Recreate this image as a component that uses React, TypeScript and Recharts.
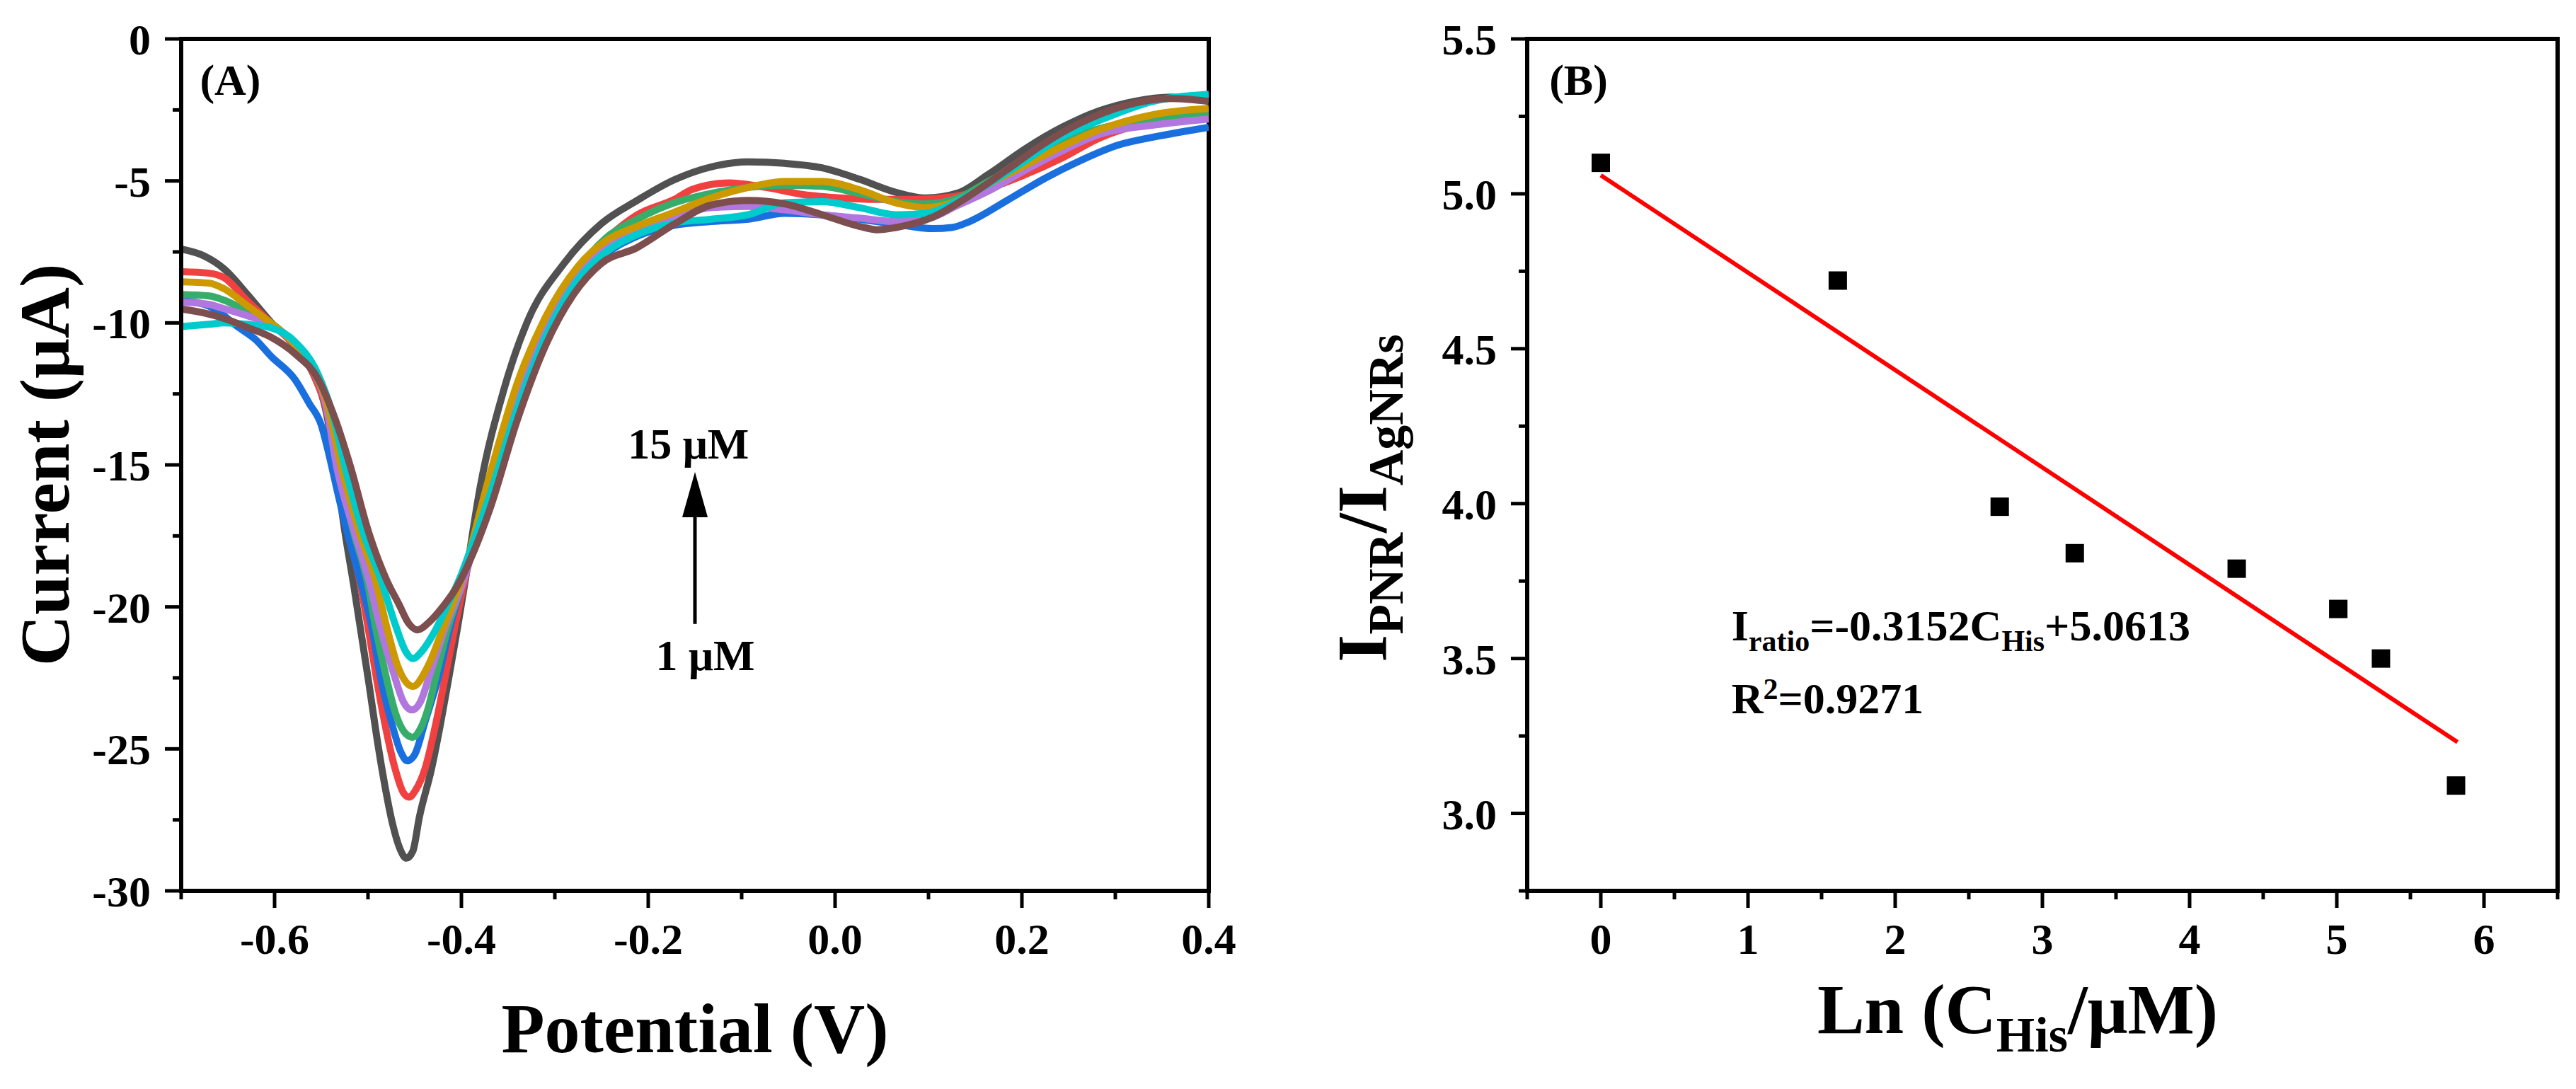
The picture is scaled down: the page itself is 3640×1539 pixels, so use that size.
import React from 'react';
import {
  LineChart,
  ComposedChart,
  Line,
  Scatter,
  XAxis,
  YAxis,
  ReferenceArea,
  ReferenceDot,
  ReferenceLine,
} from 'recharts';

const FONT = '"Liberation Serif", "Times New Roman", serif';

// ---- panel A: DPV curves, [potential V, current uA] ----
const curve1 = [
  [-0.7, -7.4], [-0.675, -7.65], [-0.654, -8.1], [-0.629, -9.0], [-0.604, -9.97], [-0.58, -10.75],
  [-0.56, -11.7], [-0.545, -13.1], [-0.535, -15.0], [-0.525, -17.3], [-0.515, -19.3], [-0.507, -21.0],
  [-0.499, -22.7], [-0.491, -24.5], [-0.483, -26.1], [-0.474, -27.6], [-0.466, -28.5], [-0.459, -28.85],
  [-0.452, -28.6], [-0.445, -27.4], [-0.432, -25.7], [-0.422, -24.05], [-0.413, -22.4], [-0.404, -20.7],
  [-0.397, -19.3], [-0.38, -15.8], [-0.355, -12.4], [-0.33, -10.0], [-0.29, -7.9], [-0.25, -6.5],
  [-0.212, -5.69], [-0.172, -4.96], [-0.133, -4.51], [-0.093, -4.33], [-0.054, -4.38], [-0.014, -4.54],
  [0.026, -4.94], [0.065, -5.4], [0.097, -5.6], [0.132, -5.42], [0.164, -4.77], [0.204, -3.86],
  [0.243, -3.11], [0.283, -2.53], [0.32, -2.2], [0.36, -2.05], [0.4, -2.1],
];
const curve2 = [
  [-0.7, -8.2], [-0.67, -8.25], [-0.654, -8.41], [-0.629, -9.23], [-0.604, -10.0], [-0.58, -10.75],
  [-0.56, -11.7], [-0.545, -13.0], [-0.532, -15.2], [-0.52, -17.4], [-0.507, -19.4], [-0.499, -20.9],
  [-0.491, -22.5], [-0.482, -24.1], [-0.471, -25.7], [-0.462, -26.55], [-0.456, -26.7], [-0.449, -26.45],
  [-0.439, -25.7], [-0.427, -24.05], [-0.417, -22.4], [-0.407, -20.7], [-0.398, -19.3], [-0.37, -15.6],
  [-0.34, -12.3], [-0.31, -9.9], [-0.27, -7.9], [-0.24, -6.9], [-0.212, -6.2], [-0.172, -5.65],
  [-0.153, -5.3], [-0.113, -5.07], [-0.074, -5.23], [-0.034, -5.48], [0.006, -5.6], [0.045, -5.65],
  [0.085, -5.65], [0.125, -5.56], [0.164, -5.27], [0.204, -4.77], [0.243, -4.19], [0.283, -3.49],
  [0.33, -3.0], [0.4, -2.75],
];
const curve3 = [
  [-0.7, -9.22], [-0.675, -9.35], [-0.66, -9.6], [-0.641, -10.1], [-0.62, -10.6], [-0.604, -11.17],
  [-0.578, -12.0], [-0.563, -12.83], [-0.55, -13.6], [-0.542, -14.6], [-0.533, -15.9], [-0.522, -17.4],
  [-0.508, -19.1], [-0.496, -20.7], [-0.487, -22.4], [-0.475, -24.05], [-0.465, -25.1], [-0.458, -25.42],
  [-0.45, -25.2], [-0.439, -24.05], [-0.424, -22.4], [-0.412, -20.7], [-0.4, -19.3], [-0.37, -16.2],
  [-0.34, -13.2], [-0.31, -10.6], [-0.28, -8.8], [-0.25, -7.7], [-0.212, -6.95], [-0.172, -6.56],
  [-0.133, -6.43], [-0.093, -6.35], [-0.054, -6.14], [-0.014, -6.2], [0.026, -6.35], [0.065, -6.52],
  [0.105, -6.68], [0.125, -6.64], [0.144, -6.43], [0.184, -5.69], [0.223, -4.94], [0.263, -4.28],
  [0.303, -3.74], [0.342, -3.45], [0.4, -3.11],
];
const curve4 = [
  [-0.7, -9.0], [-0.67, -9.05], [-0.654, -9.2], [-0.629, -9.6], [-0.604, -10.0], [-0.58, -10.7],
  [-0.56, -11.6], [-0.545, -12.8], [-0.532, -15.0], [-0.516, -17.3], [-0.501, -19.06], [-0.492, -20.7],
  [-0.481, -22.4], [-0.47, -23.8], [-0.46, -24.45], [-0.452, -24.59], [-0.444, -24.3], [-0.435, -23.5],
  [-0.427, -22.4], [-0.414, -20.7], [-0.4, -19.3], [-0.37, -15.7], [-0.34, -12.4], [-0.31, -10.0],
  [-0.275, -8.1], [-0.245, -7.0], [-0.212, -6.35], [-0.172, -5.77], [-0.133, -5.44], [-0.093, -5.23],
  [-0.054, -5.15], [-0.014, -5.19], [0.026, -5.44], [0.065, -5.73], [0.097, -5.81], [0.132, -5.6],
  [0.164, -5.02], [0.204, -4.36], [0.243, -3.61], [0.283, -3.16], [0.342, -2.82], [0.4, -2.62],
];
const curve5 = [
  [-0.7, -9.27], [-0.67, -9.35], [-0.654, -9.5], [-0.629, -9.75], [-0.604, -10.05], [-0.58, -10.7],
  [-0.56, -11.6], [-0.545, -12.9], [-0.533, -15.15], [-0.515, -17.3], [-0.499, -19.06], [-0.487, -20.7],
  [-0.472, -22.4], [-0.462, -23.35], [-0.453, -23.63], [-0.444, -23.35], [-0.434, -22.4], [-0.417, -20.7],
  [-0.4, -19.3], [-0.37, -15.9], [-0.34, -12.8], [-0.31, -10.3], [-0.275, -8.4], [-0.245, -7.3],
  [-0.212, -6.68], [-0.172, -6.27], [-0.133, -5.94], [-0.093, -5.9], [-0.054, -6.02], [-0.014, -6.19],
  [0.026, -6.31], [0.065, -6.43], [0.097, -6.35], [0.132, -5.85], [0.164, -5.36], [0.204, -4.61],
  [0.243, -3.94], [0.283, -3.36], [0.342, -3.03], [0.4, -2.82],
];
const curve6 = [
  [-0.7, -8.55], [-0.67, -8.6], [-0.654, -8.8], [-0.629, -9.4], [-0.604, -10.0], [-0.58, -10.7],
  [-0.56, -11.6], [-0.545, -12.7], [-0.528, -15.15], [-0.51, -17.3], [-0.492, -19.06], [-0.48, -20.7],
  [-0.468, -22.1], [-0.452, -22.8], [-0.436, -22.1], [-0.419, -20.7], [-0.4, -19.06], [-0.37, -15.4],
  [-0.34, -12.1], [-0.31, -9.8], [-0.275, -8.0], [-0.245, -7.1], [-0.212, -6.6], [-0.172, -6.1],
  [-0.133, -5.6], [-0.093, -5.23], [-0.054, -5.02], [-0.014, -5.02], [0.026, -5.31], [0.065, -5.77],
  [0.097, -5.94], [0.132, -5.69], [0.164, -5.11], [0.204, -4.44], [0.243, -3.78], [0.283, -3.2],
  [0.342, -2.66], [0.4, -2.45],
];
const curve7 = [
  [-0.7, -10.13], [-0.67, -10.05], [-0.654, -10.0], [-0.63, -10.05], [-0.604, -10.17], [-0.578, -10.67],
  [-0.553, -11.84], [-0.538, -13.2], [-0.524, -15.15], [-0.506, -17.3], [-0.486, -19.06], [-0.47, -20.7],
  [-0.46, -21.55], [-0.452, -21.82], [-0.442, -21.55], [-0.43, -20.95], [-0.415, -19.95], [-0.4, -18.85],
  [-0.385, -17.5], [-0.37, -16.1], [-0.34, -13.0], [-0.31, -10.5], [-0.28, -8.7], [-0.245, -7.5],
  [-0.212, -6.89], [-0.172, -6.48], [-0.133, -6.35], [-0.093, -6.19], [-0.054, -5.77], [-0.014, -5.73],
  [0.026, -5.94], [0.065, -6.19], [0.097, -6.14], [0.132, -5.69], [0.164, -5.11], [0.204, -4.28],
  [0.243, -3.45], [0.283, -2.87], [0.34, -2.2], [0.4, -1.95],
];
const curve8 = [
  [-0.7, -9.51], [-0.675, -9.65], [-0.654, -9.84], [-0.63, -10.15], [-0.604, -10.5], [-0.578, -11.09],
  [-0.553, -12.0], [-0.535, -13.4], [-0.518, -15.15], [-0.5, -17.3], [-0.48, -19.06], [-0.467, -19.9],
  [-0.456, -20.6], [-0.447, -20.81], [-0.435, -20.55], [-0.42, -20.0], [-0.405, -19.3], [-0.39, -18.3],
  [-0.37, -16.6], [-0.34, -13.4], [-0.31, -10.8], [-0.28, -9.0], [-0.25, -7.9], [-0.212, -7.35],
  [-0.172, -6.52], [-0.133, -5.85], [-0.093, -5.69], [-0.054, -5.81], [-0.014, -6.19], [0.026, -6.6],
  [0.045, -6.72], [0.065, -6.64], [0.105, -6.27], [0.144, -5.52], [0.184, -4.61], [0.223, -3.7],
  [0.263, -2.95], [0.31, -2.35], [0.36, -2.1], [0.4, -2.2],
];
const curvesA = [curve1, curve2, curve3, curve4, curve5, curve6, curve7, curve8];
const curveColors = ['#515151', '#F14040', '#1A6FDF', '#37AD6B', '#B177DE', '#CC9900', '#00CBCC', '#7D4E4E'];

const aXMajor = [-0.6, -0.4, -0.2, 0, 0.2, 0.4];
const aXLabels = ['-0.6', '-0.4', '-0.2', '0.0', '0.2', '0.4'];
const aXMinor = [-0.7, -0.5, -0.3, -0.1, 0.1, 0.3];
const aYMajor = [-30, -25, -20, -15, -10, -5, 0];
const aYLabels = ['-30', '-25', '-20', '-15', '-10', '-5', '0'];
const aYMinor = [-27.5, -22.5, -17.5, -12.5, -7.5, -2.5];

// ---- panel B: ratio vs ln(C) ----
const lnConc = [0, 1.61, 2.71, 3.22, 4.32, 5.01, 5.3, 5.81];
const ratio = [5.1, 4.72, 3.99, 3.84, 3.79, 3.66, 3.5, 3.09];
const fitX = [0, 5.82];
const fitY = [5.06, 3.23];

const bXMajor = [0, 1, 2, 3, 4, 5, 6];
const bXLabels = ['0', '1', '2', '3', '4', '5', '6'];
const bXMinor = [-0.5, 0.5, 1.5, 2.5, 3.5, 4.5, 5.5, 6.5];
const bYMajor = [3, 3.5, 4, 4.5, 5, 5.5];
const bYLabels = ['3.0', '3.5', '4.0', '4.5', '5.0', '5.5'];
const bYMinor = [2.75, 3.25, 3.75, 4.25, 4.75, 5.25];

const toXY = (pairs: number[][]) => pairs.map(([x, y]) => ({ x, y }));
const sorted = (a: number[], b: number[]) => [...a, ...b].sort((p, q) => p - q);
const findMajor = (list: number[], v: number) => list.findIndex(m => Math.abs(m - v) < 1e-6);

const textStyle = { fontFamily: FONT, fontWeight: 'bold' as const, fill: '#000' };

const makeXTick = (major: number[], labels: string[]) => (props: any) => {
  const { x, y, payload } = props;
  const i = findMajor(major, payload.value);
  return (
    <g>
      <line x1={x} x2={x} y1={y} y2={y + (i >= 0 ? 24 : 12)} stroke="#000" strokeWidth={5} />
      {i >= 0 && (
        <text x={x} y={y + 45} dy="0.71em" textAnchor="middle" fontSize={62} {...textStyle}>
          {labels[i]}
        </text>
      )}
    </g>
  );
};

const makeYTick = (major: number[], labels: string[]) => (props: any) => {
  const { x, y, payload } = props;
  const i = findMajor(major, payload.value);
  return (
    <g>
      <line x1={x - (i >= 0 ? 23 : 12)} x2={x} y1={y} y2={y} stroke="#000" strokeWidth={5} />
      {i >= 0 && (
        <text x={x - 43} y={y} dy="0.355em" textAnchor="end" fontSize={62} {...textStyle}>
          {labels[i]}
        </text>
      )}
    </g>
  );
};

const axisLine = { stroke: '#000', strokeWidth: 6 };

const label = (text: string) => (p: any) => (
  <text x={p.cx} y={p.cy} fontSize={62} {...textStyle}>
    {text}
  </text>
);

const PanelA = () => (
  <LineChart width={1800} height={1539} margin={{ top: 55, right: 92, bottom: 0, left: 0 }}>
    <XAxis
      dataKey="x"
      type="number"
      domain={[-0.7, 0.4]}
      allowDataOverflow
      ticks={sorted(aXMajor, aXMinor)}
      interval={0}
      height={280}
      tickSize={0}
      tickMargin={0}
      tickLine={false}
      axisLine={axisLine}
      tick={makeXTick(aXMajor, aXLabels)}
      label={() => (
        <text x={982} y={1487} textAnchor="middle" fontSize={100} {...textStyle}>
          Potential (V)
        </text>
      )}
    />
    <YAxis
      dataKey="y"
      type="number"
      domain={[-30, 0]}
      allowDataOverflow
      ticks={sorted(aYMajor, aYMinor)}
      interval={0}
      width={256}
      tickSize={0}
      tickMargin={0}
      tickLine={false}
      axisLine={axisLine}
      tick={makeYTick(aYMajor, aYLabels)}
      label={() => (
        <text
          x={97}
          y={657}
          transform="rotate(-90 97 657)"
          textAnchor="middle"
          fontSize={100}
          {...textStyle}
        >
          Current (μA)
        </text>
      )}
    />
    <ReferenceArea x1={-0.7} x2={0.4} y1={-30} y2={0} fill="none" stroke="#000" strokeWidth={6} />
    {curvesA.map((c, i) => (
      <Line
        key={i}
        data={toXY(c)}
        dataKey="y"
        type="monotone"
        stroke={curveColors[i]}
        strokeWidth={10}
        dot={false}
        isAnimationActive={false}
      />
    ))}
    <ReferenceDot x={-0.68} y={-1.97} r={0} shape={label('(A)')} />
    <ReferenceLine
      segment={[{ x: -0.15, y: -20.6 }, { x: -0.15, y: -15.25 }]}
      shape={(p: any) => (
        <g>
          <line x1={p.x1} y1={p.y1} x2={p.x2} y2={p.y2 + 60} stroke="#000" strokeWidth={5} />
          <polygon points={`${p.x2},${p.y2} ${p.x2 - 18},${p.y2 + 64} ${p.x2 + 18},${p.y2 + 64}`} fill="#000" />
        </g>
      )}
    />
    <ReferenceDot
      x={-0.157}
      y={-14.78}
      r={0}
      shape={(p: any) => (
        <text x={p.cx} y={p.cy} textAnchor="middle" fontSize={62} {...textStyle}>
          15 μM
        </text>
      )}
    />
    <ReferenceDot
      x={-0.139}
      y={-22.23}
      r={0}
      shape={(p: any) => (
        <text x={p.cx} y={p.cy} textAnchor="middle" fontSize={62} {...textStyle}>
          1 μM
        </text>
      )}
    />
  </LineChart>
);

const squareShape = (p: any) => <rect x={p.cx - 13} y={p.cy - 13} width={26} height={26} fill="#000" />;

const PanelB = () => (
  <ComposedChart width={1790} height={1539} margin={{ top: 55, right: 26, bottom: 0, left: 0 }}>
    <XAxis
      dataKey="x"
      type="number"
      domain={[-0.5, 6.5]}
      allowDataOverflow
      ticks={sorted(bXMajor, bXMinor)}
      interval={0}
      height={280}
      tickSize={0}
      tickMargin={0}
      tickLine={false}
      axisLine={axisLine}
      tick={makeXTick(bXMajor, bXLabels)}
      label={() => (
        <text x={1001} y={1460} textAnchor="middle" fontSize={100} {...textStyle}>
          <tspan>Ln (C</tspan>
          <tspan fontSize={70} dy={26}>His</tspan>
          <tspan dy={-26}>/μM)</tspan>
        </text>
      )}
    />
    <YAxis
      dataKey="y"
      type="number"
      domain={[2.75, 5.5]}
      allowDataOverflow
      ticks={sorted(bYMajor, bYMinor)}
      interval={0}
      width={308}
      tickSize={0}
      tickMargin={0}
      tickLine={false}
      axisLine={axisLine}
      tick={makeYTick(bYMajor, bYLabels)}
      label={() => (
        <text
          x={108}
          y={704}
          transform="rotate(-90 108 704)"
          textAnchor="middle"
          fontSize={100}
          {...textStyle}
        >
          <tspan>I</tspan>
          <tspan fontSize={70} dy={24}>PNR</tspan>
          <tspan dy={-24}>/I</tspan>
          <tspan fontSize={70} dy={24}>AgNRs</tspan>
        </text>
      )}
    />
    <ReferenceArea x1={-0.5} x2={6.5} y1={2.75} y2={5.5} fill="none" stroke="#000" strokeWidth={6} />
    <Line
      data={toXY(fitX.map((x, i) => [x, fitY[i]]))}
      dataKey="y"
      type="linear"
      stroke="#FF0000"
      strokeWidth={6}
      dot={false}
      isAnimationActive={false}
    />
    <Scatter
      data={toXY(lnConc.map((x, i) => [x, ratio[i]]))}
      dataKey="y"
      shape={squareShape}
      isAnimationActive={false}
    />
    <ReferenceDot x={-0.35} y={5.32} r={0} shape={label('(B)')} />
    <ReferenceDot
      x={0.888}
      y={3.558}
      r={0}
      shape={(p: any) => (
        <text x={p.cx} y={p.cy} fontSize={62} {...textStyle}>
          <tspan>I</tspan>
          <tspan fontSize={42} dy={15}>ratio</tspan>
          <tspan dy={-15}>=-0.3152C</tspan>
          <tspan fontSize={42} dy={15}>His</tspan>
          <tspan dy={-15}>+5.0613</tspan>
        </text>
      )}
    />
    <ReferenceDot
      x={0.888}
      y={3.324}
      r={0}
      shape={(p: any) => (
        <text x={p.cx} y={p.cy} fontSize={62} {...textStyle}>
          <tspan>R</tspan>
          <tspan fontSize={42} dy={-20}>2</tspan>
          <tspan dy={20}>=0.9271</tspan>
        </text>
      )}
    />
  </ComposedChart>
);

export default function App() {
  return (
    <div style={{ position: 'absolute', left: 0, top: 0, width: 3640, height: 1539, background: '#fff' }}>
      <div style={{ position: 'absolute', left: 0, top: 0 }}>
        <PanelA />
      </div>
      <div style={{ position: 'absolute', left: 1850, top: 0 }}>
        <PanelB />
      </div>
    </div>
  );
}
